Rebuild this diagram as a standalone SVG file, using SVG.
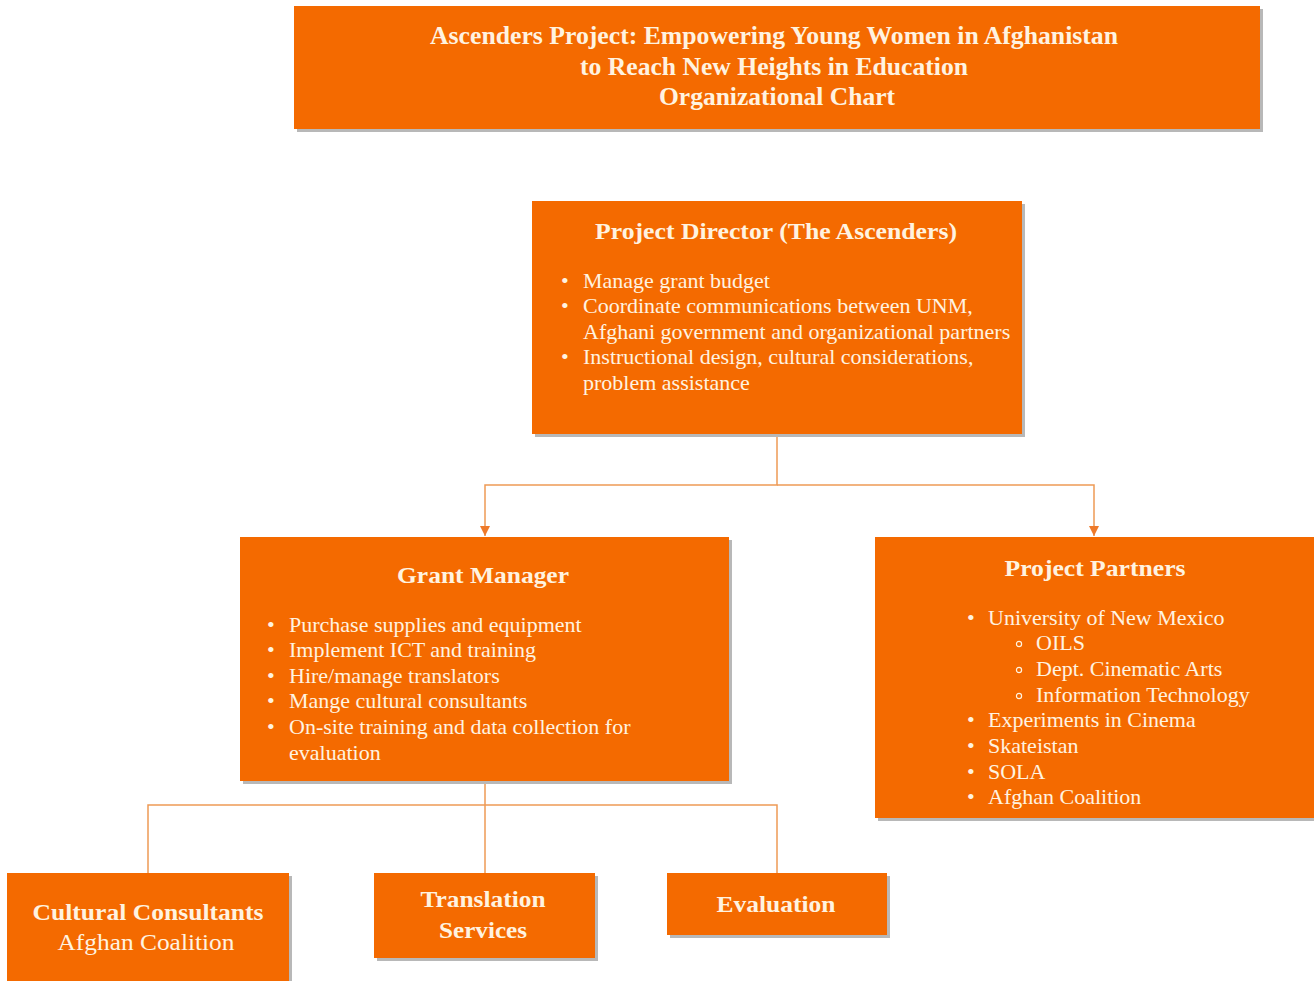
<svg xmlns="http://www.w3.org/2000/svg" width="1314" height="981" viewBox="0 0 1314 981">
<defs>
<style>
.box{fill:#F46A00}
.sh{fill:#B8B8B8}
.t{font-family:"Liberation Serif","Times New Roman",serif;fill:#FFF3E0}
.h{font-weight:bold;text-anchor:middle}
.b{font-size:22px}
.conn{fill:none;stroke:#EE9A55;stroke-width:1.5}
</style>
<marker id="arr" viewBox="0 0 10 10" refX="10" refY="5" markerWidth="10" markerHeight="10" markerUnits="userSpaceOnUse" orient="auto">
<path d="M0,0 L10,5 L0,10 z" fill="#EE7A2A"/>
</marker>
</defs>
<rect width="1314" height="981" fill="#FFFFFF"/>

<g id="title">
<rect class="sh" x="297" y="9" width="966" height="123"/>
<rect class="box" x="294" y="6" width="966" height="123"/>
<text class="t h" x="774" y="44" font-size="25" textLength="688" lengthAdjust="spacingAndGlyphs">Ascenders Project: Empowering Young Women in Afghanistan</text>
<text class="t h" x="774" y="75" font-size="25" textLength="388" lengthAdjust="spacingAndGlyphs">to Reach New Heights in Education</text>
<text class="t h" x="777" y="105" font-size="25" textLength="236" lengthAdjust="spacingAndGlyphs">Organizational Chart</text>
</g>

<g id="connectors">
<path class="conn" d="M777,434 V485 H485 V536" marker-end="url(#arr)"/>
<path class="conn" d="M777,485 H1094 V536" marker-end="url(#arr)"/>
<path class="conn" d="M485,781 V873"/>
<path class="conn" d="M148,873 V805 H777 V873"/>
</g>

<g id="project-director">
<rect class="sh" x="535" y="204" width="490" height="233"/>
<rect class="box" x="532" y="201" width="490" height="233"/>
<text class="t h" x="776" y="239" font-size="24" textLength="362" lengthAdjust="spacingAndGlyphs">Project Director (The Ascenders)</text>
<g class="t b">
<text x="561" y="288">•</text><text x="583" y="288">Manage grant budget</text>
<text x="561" y="313">•</text><text x="583" y="313">Coordinate communications between UNM,</text>
<text x="583" y="339">Afghani government and organizational partners</text>
<text x="561" y="364">•</text><text x="583" y="364">Instructional design, cultural considerations,</text>
<text x="583" y="390">problem assistance</text>
</g>
</g>

<g id="grant-manager">
<rect class="sh" x="243" y="540" width="489" height="244"/>
<rect class="box" x="240" y="537" width="489" height="244"/>
<text class="t h" x="483" y="583" font-size="24" textLength="172" lengthAdjust="spacingAndGlyphs">Grant Manager</text>
<g class="t b">
<text x="267" y="632">•</text><text x="289" y="632">Purchase supplies and equipment</text>
<text x="267" y="657">•</text><text x="289" y="657">Implement ICT and training</text>
<text x="267" y="683">•</text><text x="289" y="683">Hire/manage translators</text>
<text x="267" y="708">•</text><text x="289" y="708">Mange cultural consultants</text>
<text x="267" y="734">•</text><text x="289" y="734">On-site training and data collection for</text>
<text x="289" y="760">evaluation</text>
</g>
</g>

<g id="project-partners">
<rect class="sh" x="878" y="540" width="440" height="281"/>
<rect class="box" x="875" y="537" width="440" height="281"/>
<text class="t h" x="1095" y="576" font-size="24" textLength="181" lengthAdjust="spacingAndGlyphs">Project Partners</text>
<g class="t b">
<text x="967" y="625">•</text><text x="988" y="625">University of New Mexico</text>
<circle cx="1019" cy="644" r="2.6" fill="none" stroke="#FFF3E0" stroke-width="1.2"/><text x="1036" y="650">OILS</text>
<circle cx="1019" cy="670" r="2.6" fill="none" stroke="#FFF3E0" stroke-width="1.2"/><text x="1036" y="676">Dept. Cinematic Arts</text>
<circle cx="1019" cy="696" r="2.6" fill="none" stroke="#FFF3E0" stroke-width="1.2"/><text x="1036" y="702">Information Technology</text>
<text x="967" y="727">•</text><text x="988" y="727">Experiments in Cinema</text>
<text x="967" y="753">•</text><text x="988" y="753">Skateistan</text>
<text x="967" y="779">•</text><text x="988" y="779">SOLA</text>
<text x="967" y="804">•</text><text x="988" y="804">Afghan Coalition</text>
</g>
</g>

<g id="cultural-consultants">
<rect class="sh" x="10" y="876" width="282" height="110"/>
<rect class="box" x="7" y="873" width="282" height="110"/>
<text class="t h" x="148" y="920" font-size="24" textLength="231" lengthAdjust="spacingAndGlyphs">Cultural Consultants</text>
<text class="t" x="146" y="950" font-size="24" text-anchor="middle" textLength="177" lengthAdjust="spacingAndGlyphs">Afghan Coalition</text>
</g>

<g id="translation-services">
<rect class="sh" x="377" y="876" width="221" height="85"/>
<rect class="box" x="374" y="873" width="221" height="85"/>
<text class="t h" x="483" y="907" font-size="24" textLength="125" lengthAdjust="spacingAndGlyphs">Translation</text>
<text class="t h" x="483" y="938" font-size="24" textLength="88" lengthAdjust="spacingAndGlyphs">Services</text>
</g>

<g id="evaluation">
<rect class="sh" x="670" y="876" width="220" height="62"/>
<rect class="box" x="667" y="873" width="220" height="62"/>
<text class="t h" x="776" y="912" font-size="24" textLength="119" lengthAdjust="spacingAndGlyphs">Evaluation</text>
</g>
</svg>
